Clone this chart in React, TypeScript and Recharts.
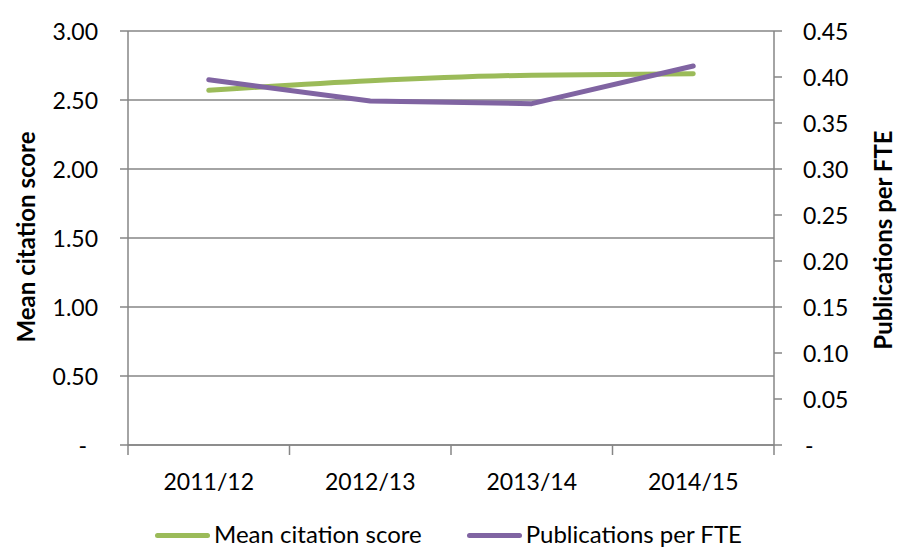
import { CartesianGrid, Legend, Line, LineChart, XAxis, YAxis } from "recharts";

const years = ["2011/12", "2012/13", "2013/14", "2014/15"];
const citationScore = [2.57, 2.64, 2.68, 2.69];
const pubsPerFte = [0.397, 0.374, 0.371, 0.412];
const leftTicks = [0, 0.5, 1, 1.5, 2, 2.5, 3];
const rightTicks = [0, 0.05, 0.1, 0.15, 0.2, 0.25, 0.3, 0.35, 0.4, 0.45];

const data = years.map((year, i) => ({
  year,
  citation: citationScore[i],
  pubs: pubsPerFte[i],
}));

const FONT = "Lato, 'Open Sans', sans-serif";
const FS = 23; // numbers and categories
const TS = 24; // titles and legend
const GREEN = "#9bbb59";
const PURPLE = "#8064a2";
const AXIS = "#868686";
const HALF_BAND = (774 - 128) / years.length / 2;

const fmt = (v: number) => (v === 0 ? "-" : v.toFixed(2));

function LeftTick({ x, y, payload }: any) {
  const v = payload.value;
  return (
    <text x={v === 0 ? x - 11 : x} y={y} textAnchor="end" dominantBaseline="central"
      fontFamily={FONT} fontSize={FS} fill="#000">
      {fmt(v)}
    </text>
  );
}

function RightTick({ x, y, payload }: any) {
  const v = payload.value;
  return (
    <text x={v === 0 ? x + 2 : x} y={y} textAnchor="start" dominantBaseline="central"
      fontFamily={FONT} fontSize={FS} fill="#000">
      {fmt(v)}
    </text>
  );
}

function XTick({ x, y, payload, index }: any) {
  const last = index === years.length - 1;
  return (
    <g>
      <line x1={x - HALF_BAND} x2={x - HALF_BAND} y1={y} y2={y + 10} stroke={AXIS} strokeWidth={1.5} />
      {last && (
        <line x1={x + HALF_BAND} x2={x + HALF_BAND} y1={y} y2={y + 10} stroke={AXIS} strokeWidth={1.5} />
      )}
      <text x={x} y={y + 36} textAnchor="middle" dominantBaseline="central"
        fontFamily={FONT} fontSize={FS} fill="#000">
        {payload.value}
      </text>
    </g>
  );
}

function LegendContent() {
  const items = [
    { label: "Mean citation score", color: GREEN },
    { label: "Publications per FTE", color: PURPLE },
  ];
  return (
    <div style={{ display: "flex", justifyContent: "center", gap: 45, fontFamily: FONT, fontSize: TS, color: "#000", lineHeight: "29px" }}>
      {items.map((it) => (
        <div key={it.label} style={{ display: "flex", alignItems: "center", gap: 4 }}>
          <span style={{ width: 55, height: 5, borderRadius: 3, background: it.color, display: "inline-block", marginTop: 4 }} />
          <span>{it.label}</span>
        </div>
      ))}
    </div>
  );
}

export default function App() {
  return (
    <div style={{ width: 897, height: 547 }}>
      <style>{`body{margin:0}`}</style>
      <LineChart width={897} height={547} data={data} margin={{ top: 31, right: 0, bottom: 0, left: 0 }}>
        <CartesianGrid vertical={false} stroke={AXIS} strokeWidth={1.5} yAxisId="left" />
        <XAxis
          dataKey="year"
          height={102}
          padding={{ left: HALF_BAND, right: HALF_BAND }}
          stroke={AXIS}
          strokeWidth={1.5}
          tickSize={0}
          tickMargin={0}
          tickLine={false}
          tick={<XTick />}
        />
        <YAxis
          yAxisId="left"
          width={128}
          domain={[0, 3]}
          ticks={leftTicks}
          stroke={AXIS}
          strokeWidth={1.5}
          tickSize={8}
          tickMargin={22}
          tick={<LeftTick />}
          label={{
            content: () => (
              <text transform="translate(25,237) rotate(-90)" textAnchor="middle" dominantBaseline="central"
                fontFamily={FONT} fontSize={TS} fontWeight="bold" fill="#000">
                Mean citation score
              </text>
            ),
          }}
        />
        <YAxis
          yAxisId="right"
          orientation="right"
          width={123}
          domain={[0, 0.45]}
          ticks={rightTicks}
          stroke={AXIS}
          strokeWidth={1.5}
          tickSize={8}
          tickMargin={21}
          tick={<RightTick />}
          label={{
            content: () => (
              <text transform="translate(882,240) rotate(-90)" textAnchor="middle" dominantBaseline="central"
                fontFamily={FONT} fontSize={TS} fontWeight="bold" fill="#000">
                Publications per FTE
              </text>
            ),
          }}
        />
        <Legend
          layout="horizontal"
          verticalAlign="middle"
          align="center"
          wrapperStyle={{ top: 519, left: 0, width: 897 }}
          content={<LegendContent />}
        />
        <Line
          yAxisId="left"
          type="monotone"
          dataKey="citation"
          stroke={GREEN}
          strokeWidth={5}
          strokeLinecap="round"
          dot={false}
          activeDot={false}
          isAnimationActive={false}
        />
        <Line
          yAxisId="right"
          type="linear"
          dataKey="pubs"
          stroke={PURPLE}
          strokeWidth={5}
          strokeLinecap="round"
          strokeLinejoin="round"
          dot={false}
          activeDot={false}
          isAnimationActive={false}
        />
      </LineChart>
    </div>
  );
}
